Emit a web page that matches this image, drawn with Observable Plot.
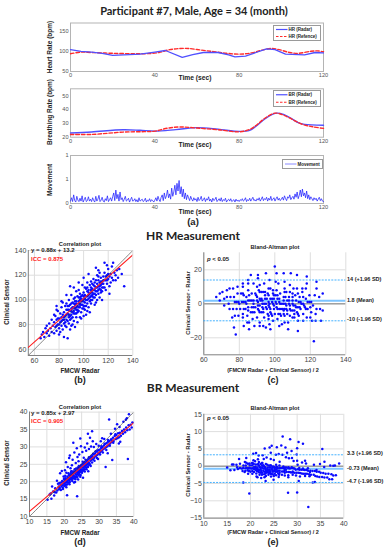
<!DOCTYPE html>
<html><head><meta charset="utf-8">
<script src="https://cdn.jsdelivr.net/npm/d3@7"></script>
<script src="https://cdn.jsdelivr.net/npm/@observablehq/plot@0.6"></script>
<style>
body{margin:0;background:#fff;}
#root{position:relative;width:390px;height:550px;overflow:hidden;font-family:"Liberation Sans",Arial,sans-serif;}
#root svg.p{position:absolute;left:0;top:0;}
.t{position:absolute;white-space:nowrap;transform:translate(-50%,-50%);font-weight:bold;color:#222;line-height:1;}
.l{position:absolute;white-space:nowrap;transform:translate(0,-50%);font-weight:bold;color:#222;line-height:1;}
.r{position:absolute;white-space:nowrap;transform:translate(-50%,-50%) rotate(-90deg);font-weight:bold;color:#222;line-height:1;}
</style></head><body><div id="root"></div><script>
// ---------------- DATA ----------------
const timeTicks = [0, 40, 80, 120];
const hrTicksTS = [50, 100, 150];
const brTicksTS = [20, 30, 40, 50];
const mvTicksTS = [0, 0.5, 1];

const hrRadarT = [0, 5, 10, 15, 20, 28, 33, 40, 45, 53, 58, 63, 70, 75, 78, 83, 88, 93, 97, 102, 108, 111, 116, 120];
const hrRadar  = [104, 100, 98, 95, 90, 92, 93, 98, 102, 85, 92, 97, 97, 91, 86, 88, 97, 106, 104, 93, 92, 91, 97, 96];
const hrRefT   = [0, 5, 10, 20, 30, 36, 42, 47, 52, 56, 62, 68, 74, 80, 86, 91, 95, 99, 104, 108, 114, 117, 120];
const hrRef    = [94, 98, 97, 95, 94, 94, 97, 104, 107, 107, 103, 99, 95, 93, 96, 103, 107, 104, 97, 95, 100, 101, 99];

const brRadarT = [0, 10, 25, 33, 40, 50, 60, 70, 80, 85, 88, 92, 96, 98, 101, 104, 108, 111, 120];
const brRadar  = [23, 23.8, 25.4, 25, 24.4, 25.5, 26.9, 25.8, 24.2, 25, 28, 33, 36.7, 37.4, 36.5, 34.2, 30.5, 29.3, 28.6];
const brRefT   = [0, 10, 25, 35, 40, 46, 52, 60, 70, 80, 85, 88, 92, 97, 101, 105, 110, 115, 120];
const brRef    = [22, 22, 23.7, 24, 24.4, 26.5, 27.4, 26.6, 25.4, 23.9, 25.6, 28.5, 33.5, 37.4, 36, 33, 29.3, 27.5, 26.4];

const movementStep = 0.5; // seconds between samples
const movement = [
0.05,0.12,0.04,0.18,0.06,0.03,0.15,0.07,0.04,0.11,0.05,0.16,0.03,0.08,0.13,0.04,0.06,0.14,0.05,0.09,
0.04,0.12,0.06,0.03,0.15,0.05,0.09,0.17,0.04,0.07,0.13,0.05,0.03,0.1,0.06,0.16,0.04,0.08,0.12,0.05,
0.14,0.22,0.06,0.28,0.1,0.19,0.05,0.24,0.08,0.12,0.04,0.09,0.15,0.05,0.07,0.11,0.03,0.08,0.13,0.05,
0.06,0.1,0.04,0.08,0.03,0.12,0.05,0.07,0.09,0.04,0.06,0.11,0.03,0.07,0.05,0.1,0.04,0.08,0.06,0.03,
0.07,0.12,0.05,0.15,0.08,0.04,0.13,0.18,0.06,0.22,0.1,0.16,0.28,0.12,0.2,0.09,0.32,0.15,0.24,0.38,
0.18,0.42,0.26,0.48,0.2,0.35,0.14,0.3,0.1,0.22,0.08,0.18,0.12,0.06,0.15,0.09,0.05,0.12,0.07,0.1,
0.04,0.13,0.06,0.09,0.15,0.05,0.08,0.12,0.04,0.1,0.07,0.14,0.05,0.09,0.03,0.11,0.06,0.08,0.13,0.04,
0.07,0.1,0.05,0.12,0.04,0.08,0.06,0.11,0.03,0.07,0.09,0.05,0.1,0.04,0.06,0.08,0.03,0.09,0.05,0.07,
0.04,0.08,0.06,0.1,0.05,0.07,0.12,0.04,0.08,0.06,0.11,0.05,0.09,0.13,0.06,0.08,0.05,0.1,0.07,0.12,
0.05,0.09,0.14,0.06,0.1,0.08,0.13,0.05,0.11,0.07,0.15,0.06,0.09,0.12,0.05,0.1,0.14,0.07,0.11,0.06,
0.09,0.13,0.07,0.16,0.1,0.06,0.14,0.11,0.18,0.08,0.12,0.15,0.09,0.2,0.13,0.24,0.1,0.17,0.28,0.14,
0.3,0.16,0.22,0.12,0.26,0.1,0.18,0.08,0.14,0.1,0.06,0.12,0.08,0.11,0.05,0.09,0.13,0.06,0.1,0.05,0.04];

// HR pairs: [FMCW radar, clinical sensor]
const hrPairs = [
[65,69],[66,72],[67,74],[68,70],[69,77],[70,73],[70,79],[71,75],[72,71],[72,81],[73,77],[74,74],[74,84],[75,79],
[76,73],[76,82],[77,78],[77,87],[78,75],[78,84],[79,80],[79,91],[80,77],[80,85],[80,72],[81,82],[81,89],[82,79],[82,86],[82,94],
[83,76],[83,84],[84,81],[84,90],[84,70],[85,87],[85,79],[85,95],[76,88],[78,92],[81,74],[83,98],[79,85],[84,86],
[86,84],[86,92],[86,78],[87,69],[87,89],[87,95],[88,86],[88,81],[88,100],[89,91],[89,84],[89,96],[90,88],[90,93],[90,79],[90,104],
[91,90],[91,86],[91,98],[92,94],[92,83],[92,101],[93,89],[93,96],[93,78],[94,92],[94,99],[94,86],[95,95],[95,90],[95,103],[95,82],
[86,97],[88,92],[90,97],[92,89],[94,107],[91,80],[93,102],[89,76],[87,83],[94,94],[86,88],[92,97],[90,85],
[96,97],[96,91],[96,108],[97,94],[97,100],[97,86],[98,96],[98,103],[98,90],[99,99],[99,93],[99,112],[100,101],[100,95],[100,106],[100,87],
[101,98],[101,104],[101,92],[102,100],[102,109],[102,95],[103,103],[103,97],[103,114],[104,101],[104,94],[104,108],[105,105],[105,99],[105,112],[105,90],
[96,102],[98,85],[100,118],[102,88],[104,104],[97,105],[99,104],[101,110],[103,91],[96,94],[98,99],[100,99],[103,107],
[106,103],[106,110],[106,97],[107,106],[107,113],[107,100],[108,108],[108,102],[108,117],[109,105],[109,111],[109,96],[110,110],[110,104],[110,116],
[111,107],[111,100],[111,120],[112,111],[112,105],[112,116],[113,109],[113,102],[113,122],[114,112],[114,106],[114,118],[115,110],[115,115],[115,100],
[106,115],[108,112],[110,98],[112,124],[114,108],[107,109],[109,114],[111,113],[113,114],[106,106],
[116,113],[116,119],[117,110],[117,122],[118,116],[118,108],[119,120],[119,113],[120,117],[120,125],[121,111],[121,119],[122,121],[122,114],
[123,118],[123,127],[124,116],[125,122],[117,130],[119,128],[121,105],[116,116],
[126,120],[127,124],[128,118],[129,125],[131,121],[133,111],[124,130],[126,116],
[89,111],[78,95],[82,99],[96,114],[104,121],[110,126],[86,104],[92,110],[83,88],[97,97],[101,101],[107,104],
[85,82],[87,92],[88,88],[89,87],[90,91],[91,94],[92,91],[93,93],[94,97],[95,92],[96,99],[97,96],[98,101],[99,96],[100,103],
[101,95],[102,103],[103,100],[104,106],[105,102],[106,108],[107,103],[108,105],[109,108],[110,107],[111,110],[112,108],[113,111],
[114,115],[115,113],[116,110],[117,116],[118,119],[119,116],[120,121],[88,95],[91,93],[94,89],[97,102],[100,93],[103,110],
[106,100],[109,102],[112,119],[115,107],[84,84],[82,83],[80,80],[78,79],[93,99]];

// BR pairs: [FMCW radar, clinical sensor]
const brPairs = [
[15.2,14.8],[15.8,16.3],[16.3,15.1],[16.8,17.2],[17.1,16.0],[17.4,18.1],[17.7,16.9],[18.0,17.5],[18.2,19.4],[18.5,17.8],[16.5,18.6],[17.9,20.3],
[18.7,18.2],[18.9,19.1],[19.0,17.6],[19.2,18.6],[19.4,20.2],[19.5,19.0],[19.6,18.2],[19.8,21.5],[19.9,19.4],[20.0,18.8],[18.8,22.4],[19.3,23.1],[19.7,20.0],[18.4,18.6],
[20.1,19.6],[20.2,20.5],[20.3,18.9],[20.4,21.0],[20.5,19.8],[20.6,22.6],[20.7,20.1],[20.8,19.2],[20.9,21.4],[21.0,20.3],[21.1,19.7],[21.2,21.0],[21.3,20.4],[21.4,22.0],
[21.5,20.8],[21.6,19.9],[21.7,21.3],[21.8,20.6],[21.9,22.5],[22.0,21.1],[20.5,25.6],[21.0,24.2],[21.4,26.8],[21.8,23.9],[20.8,16.1],[21.6,27.5],[20.2,23.3],[20.0,20.9],
[22.1,20.7],[22.2,21.9],[22.3,21.2],[22.4,22.6],[22.5,20.9],[22.6,21.8],[22.7,22.3],[22.8,21.0],[22.9,22.9],[23.0,21.6],[23.1,22.4],[23.2,21.3],[23.3,23.0],[23.4,22.1],
[23.5,21.6],[23.6,22.8],[23.7,15.8],[23.8,22.2],[23.9,23.5],[24.0,22.7],[22.4,26.3],[22.9,28.4],[23.3,25.4],[23.6,29.6],[22.2,24.7],[23.8,27.1],[22.6,31.2],[23.1,19.9],[24.0,20.6],
[24.1,23.2],[24.2,22.5],[24.3,23.9],[24.4,23.0],[24.5,24.1],[24.6,22.8],[24.7,23.6],[24.8,24.6],[24.9,23.3],[25.0,24.2],[25.1,23.5],[25.2,25.0],[25.3,24.1],[25.4,23.2],
[25.5,24.8],[25.6,24.0],[25.7,25.3],[25.8,24.4],[25.9,23.6],[26.0,25.0],[24.3,27.8],[24.8,30.2],[25.2,28.5],[25.6,26.9],[24.6,32.4],[25.9,29.8],[24.1,25.9],[25.4,21.1],
[26.1,25.4],[26.2,24.6],[26.4,25.9],[26.5,24.9],[26.7,26.2],[26.8,33.8],[26.9,25.6],[27.0,26.5],[27.2,25.3],[27.3,26.8],[27.5,26.0],[27.6,27.2],[27.8,26.3],[27.9,27.5],
[28.0,26.6],[26.3,28.9],[26.6,31.0],[27.1,29.4],[27.4,32.6],[27.7,30.1],[28.0,34.5],[26.9,23.0],[27.6,24.5],
[28.1,27.1],[28.3,26.4],[28.4,27.8],[28.6,26.9],[28.8,28.1],[29.0,27.3],[29.1,28.6],[29.3,27.6],[29.5,28.9],[29.6,27.8],[29.8,29.1],[30.0,28.2],[28.5,30.0],[29.2,30.8],[29.7,26.5],[28.2,31.6],[29.9,30.3],
[30.2,29.2],[30.4,28.5],[30.6,29.7],[30.8,28.9],[31.0,30.0],[31.2,29.3],[31.4,30.4],[31.6,29.6],[31.8,30.8],[32.0,29.9],[32.2,31.1],[32.4,30.2],[32.6,31.5],[32.8,30.6],[33.0,31.7],
[30.5,31.6],[31.5,32.3],[32.5,28.2],[31.9,24.2],[30.9,32.5],
[33.2,31.0],[33.5,32.2],[33.7,31.4],[34.0,32.6],[34.2,31.7],[34.5,33.1],[34.8,32.3],[35.0,33.4],[35.3,32.5],[35.5,33.9],[35.8,32.8],[36.0,34.1],[33.8,26.2],[34.6,35.2],[35.2,36.5],[35.7,31.0],[33.4,33.8],[35.9,35.7],
[36.3,33.2],[36.6,34.6],[36.9,33.8],[37.2,35.0],[37.5,34.2],[37.8,35.6],[38.1,34.8],[38.3,26.5],[38.5,36.2],[38.8,35.0],[39.1,36.4],[39.4,35.6],[39.6,37.0],[36.1,31.5],[37.0,37.2],[38.0,38.2],
[32.9,37.9],[38.6,39.4],[37.7,37.8],
[19.1,19.8],[19.6,17.9],[20.3,21.7],[20.6,18.4],[20.9,20.7],[21.2,22.4],[21.5,19.3],[21.8,21.9],[22.1,23.0],[22.3,20.2],[22.6,22.9],[22.8,19.8],
[23.0,23.6],[23.2,20.7],[23.5,22.9],[23.7,21.2],[23.9,24.1],[24.1,21.8],[24.3,22.2],[24.5,23.4],[24.7,21.9],[24.9,24.8],[25.1,22.6],[25.3,25.7],
[25.5,23.3],[25.7,24.7],[25.9,22.9],[26.1,26.3],[26.3,24.1],[26.6,25.3],[26.8,24.2],[27.1,27.0],[27.4,24.9],[27.7,26.9],[28.0,25.5],[28.3,28.0],
[28.7,26.0],[29.0,28.7],[29.4,26.8],[29.8,28.3],[30.3,27.8],[30.7,30.2],[31.1,28.4],[31.6,30.9],[32.1,29.1],[32.6,32.0],[33.1,30.3],[33.6,31.9],
[34.1,31.2],[34.7,33.6],[22.0,22.9],[22.5,21.4],[23.4,23.8],[24.2,24.5],[24.6,21.4],[25.0,23.0],[25.8,25.6],[26.4,23.6],[27.0,24.9],[21.3,21.8],
[20.4,19.1],[19.9,20.8],[18.6,19.6],[17.3,17.0],[16.1,16.6]];

const hrFit = {slope: 0.88, intercept: 13.2, icc: 0.875};
const brFit = {slope: 0.85, intercept: 2.97, icc: 0.905};
const hrBA = {upper: 14, mean: 1.8, lower: -10};
const brBA = {upper: 3.3, mean: -0.73, lower: -4.7};

const hrCorrTicks = [60, 80, 100, 120, 140];
const hrBAxTicks = [60, 80, 100, 120, 140];
const hrBAyTicks = [-20, 0, 20];
const brCorrTicks = [10, 15, 20, 25, 30, 35, 40];
const brBAyTicks = [-15, -10, -5, 0, 5, 10, 15];

// ---------------- RENDER ----------------
const root = document.getElementById("root");
function add(svg){ svg.classList.add("p"); root.appendChild(svg); }
function txt(cls, x, y, s, size, extra){
  const d = document.createElement("div");
  d.className = cls; d.style.left = x + "px"; d.style.top = y + "px";
  d.style.fontSize = size + "px";
  if (extra) Object.assign(d.style, extra);
  d.innerHTML = s; root.appendChild(d); return d;
}
const FONT = '"Liberation Sans", Arial, sans-serif';
function box(l, r, t, b){ return {width:390, height:550, marginLeft:l, marginRight:390-r, marginTop:t, marginBottom:550-b}; }
const tsStyle = {background:"transparent", overflow:"visible", fontFamily:FONT, fontSize:"5.6px", color:"#555"};
const scStyle = {background:"transparent", overflow:"visible", fontFamily:FONT, fontSize:"7px", color:"#444"};

function seriesPlot(b, ydom, yt, marks){
  return Plot.plot({...b, style:tsStyle,
    x:{domain:[0,120]}, y:{domain:ydom},
    marks:[
      Plot.frame({stroke:"#b4b4b4"}),
      Plot.axisX(timeTicks, {tickSize:0, tickPadding:2, label:null}),
      Plot.axisY(yt, {tickSize:0, tickPadding:2, label:null}),
      ...marks
    ]});
}

// Heart rate
add(seriesPlot(box(70, 323, 22.5, 71), [50,170], hrTicksTS, [
  Plot.line(hrRef, {x:hrRefT, y:Plot.identity, stroke:"#ff2a2a", strokeWidth:1.4, strokeDasharray:"3.5,2", curve:"catmull-rom"}),
  Plot.line(hrRadar, {x:hrRadarT, y:Plot.identity, stroke:"#5050ff", strokeWidth:1.3})
]));
// Breathing rate
add(seriesPlot(box(70, 323, 88.3, 136.7), [20,55], brTicksTS, [
  Plot.line(brRadar, {x:brRadarT, y:Plot.identity, stroke:"#5050ff", strokeWidth:1.4, curve:"catmull-rom"}),
  Plot.line(brRef, {x:brRefT, y:Plot.identity, stroke:"#ff2a2a", strokeWidth:1.4, strokeDasharray:"3.5,2", curve:"catmull-rom"})
]));
// Movement
add(seriesPlot(box(70, 323, 155, 203), [0,1], mvTicksTS, [
  Plot.line(movement, {x:(d,i)=>i*movementStep, y:Plot.identity, stroke:"#1f1fff", strokeWidth:0.75})
]));

function corrPlot(b, dom, ticks, pairs, fit){
  const fitLine = dom.map(x => ({x, y: fit.slope*x + fit.intercept}));
  const idLine = dom.map(x => ({x, y:x}));
  return Plot.plot({...b, style:scStyle, x:{domain:dom}, y:{domain:dom},
    marks:[
      Plot.gridX(ticks, {stroke:"#dedede", strokeOpacity:1}),
      Plot.gridY(ticks, {stroke:"#dedede", strokeOpacity:1}),
      Plot.ruleX([dom[0]], {stroke:"#808080"}),
      Plot.ruleY([dom[0]], {stroke:"#808080"}),
      Plot.axisX(ticks, {tickSize:0, tickPadding:2.5, label:null}),
      Plot.axisY(ticks, {tickSize:0, tickPadding:2, label:null}),
      Plot.dot(pairs, {x:d=>d[0], y:d=>d[1], r:1.25, fill:"#0a0aff", stroke:"none"}),
      Plot.line(idLine, {x:"x", y:"y", stroke:"#333", strokeWidth:0.6, strokeDasharray:"1.4,0.8", clip:true}),
      Plot.line(fitLine, {x:"x", y:"y", stroke:"#ff2020", strokeWidth:1.1, clip:true})
    ]});
}
function baPlot(b, xdom, ydom, xt, yt, pairs, ba){
  const pts = pairs.map(d => ({m:(d[0]+d[1])/2, diff:d[1]-d[0]}));
  return Plot.plot({...b, style:scStyle, x:{domain:xdom}, y:{domain:ydom},
    marks:[
      Plot.gridX(xt, {stroke:"#dedede", strokeOpacity:1}),
      Plot.gridY(yt, {stroke:"#dedede", strokeOpacity:1}),
      Plot.ruleX([xdom[0]], {stroke:"#808080"}),
      Plot.ruleY([ydom[0]], {stroke:"#808080"}),
      Plot.axisX(xt, {tickSize:0, tickPadding:2.5, label:null}),
      Plot.axisY(yt, {tickSize:0, tickPadding:2, label:null}),
      Plot.ruleY([0], {stroke:"#a0a0a0", strokeWidth:1.6}),
      Plot.ruleY([ba.mean], {stroke:"#7cc4ff", strokeWidth:1.8}),
      Plot.dot(pts, {x:"m", y:"diff", r:1.25, fill:"#0a0aff", stroke:"none"}),
      Plot.ruleY([ba.upper, ba.lower], {stroke:"#2fa8ff", strokeWidth:0.9, strokeDasharray:"2,1.2"})
    ]});
}

add(corrPlot(box(27.8, 132.3, 250, 355), [55,140], hrCorrTicks, hrPairs, hrFit));
add(baPlot(box(203.3, 345.3, 252.3, 354.3), [60,140], [-30,30], hrBAxTicks, hrBAyTicks, hrPairs, hrBA));
add(corrPlot(box(29, 133.3, 411.6, 516), [10,40], brCorrTicks, brPairs, brFit));
add(baPlot(box(203.3, 343.3, 413.8, 517.6), [10,40], [-15,15], brCorrTicks, brBAyTicks, brPairs, brBA));

// Legends
function legend(x, y, w, h, items, fs){
  const rowH = h / items.length;
  let s = `<svg width="${w}" height="${h}" style="display:block">`;
  items.forEach((it, i) => {
    const cy = rowH*(i+0.5);
    s += `<line x1="2" x2="13.5" y1="${cy}" y2="${cy}" stroke="${it.color}" stroke-width="${it.w}" ${it.dash?`stroke-dasharray="${it.dash}"`:""}/>`;
    s += `<text x="14.5" y="${cy}" dy="0.35em" font-family='${FONT}' font-weight="bold" font-size="${fs}" fill="#222">${it.label}</text>`;
  });
  s += `</svg>`;
  const d = document.createElement("div");
  d.style.cssText = `position:absolute;left:${x}px;top:${y}px;width:${w}px;height:${h}px;border:0.6px solid #9a9a9a;background:#fff;box-sizing:content-box;`;
  d.innerHTML = s; root.appendChild(d);
}
legend(273, 25, 46, 14, [{label:"HR (Radar)", color:"#5050ff", w:1.2},{label:"HR (Refence)", color:"#ff2a2a", w:1.2, dash:"2.5,1.5"}], 4.5);
legend(273, 90, 46, 15, [{label:"BR (Radar)", color:"#5050ff", w:1.2},{label:"BR (Refence)", color:"#ff2a2a", w:1.2, dash:"2.5,1.5"}], 4.5);
legend(282, 159, 39, 8, [{label:"Movement", color:"#8a8aff", w:1}], 4.5);

// Texts
txt("t", 194, 10, "Participant #7, Male, Age = 34 (month)", 11, {fontFamily:"Lato, sans-serif"});
txt("r", 50, 47, "Heart Rate (bpm)", 6.5);
txt("t", 195, 78, "Time (sec)", 6.7);
txt("r", 50, 112, "Breathing Rate (bpm)", 6.5);
txt("t", 195, 144.5, "Time (sec)", 6.7);
txt("r", 50, 180, "Movement", 6.5);
txt("t", 195, 211.5, "Time (sec)", 6.7);
txt("t", 193, 222, "(a)", 9.5);
txt("t", 193, 236, "HR Measurement", 12, {fontFamily:"Lato, sans-serif"});
txt("t", 193, 388, "BR Measurement", 12, {fontFamily:"Lato, sans-serif"});

function corrTexts(y0, fit, yBottom, letter, ylabY){
  txt("t", 80, y0 - 5, "Correlation plot", 5.7);
  txt("l", 31, y0, `y = ${fit.slope}x + ${fit.intercept}`, 6);
  txt("l", 31, y0 + 8.5, `ICC = ${fit.icc}`, 6, {color:"#ff2020"});
  txt("r", 7, ylabY, "Clinical Sensor", 6.3);
  txt("t", 80, yBottom + 15.5, "FMCW Radar", 6.3);
  txt("t", 80, yBottom + 25, `(${letter})`, 9);
}
function baTexts(yTitle, pY, ylabY, ba, yScale, yBottom, letter){
  txt("t", 275, yTitle, "Bland-Altman plot", 5.7);
  txt("l", 207, pY, "<i>p</i> &lt; 0.05", 6);
  txt("r", 189, ylabY, "Clinical Sensor - Radar", 5.8);
  txt("l", 347, yScale(ba.upper), `${ba.upper} (+1.96 SD)`, 5.5);
  txt("l", 347, yScale(ba.mean) + 1, `${ba.mean} (Mean)`, 5.5);
  txt("l", 347, yScale(ba.lower), `${ba.lower} (-1.96 SD)`, 5.5);
  txt("t", 273, yBottom + 15.5, "(FMCW Radar + Clinical Sensor) / 2", 5.5);
  txt("t", 273, yBottom + 25, `(${letter})`, 9);
}
corrTexts(250, hrFit, 355, "b", 302);
corrTexts(412.5, brFit, 517, "d", 463);
const hrY = d3.scaleLinear([-30,30],[354.3,252.3]);
const brY = d3.scaleLinear([-15,15],[517.6,413.8]);
baTexts(248, 258.5, 303, hrBA, hrY, 355, "c");
baTexts(409, 417.5, 465, brBA, brY, 517, "e");
</script></body></html>
